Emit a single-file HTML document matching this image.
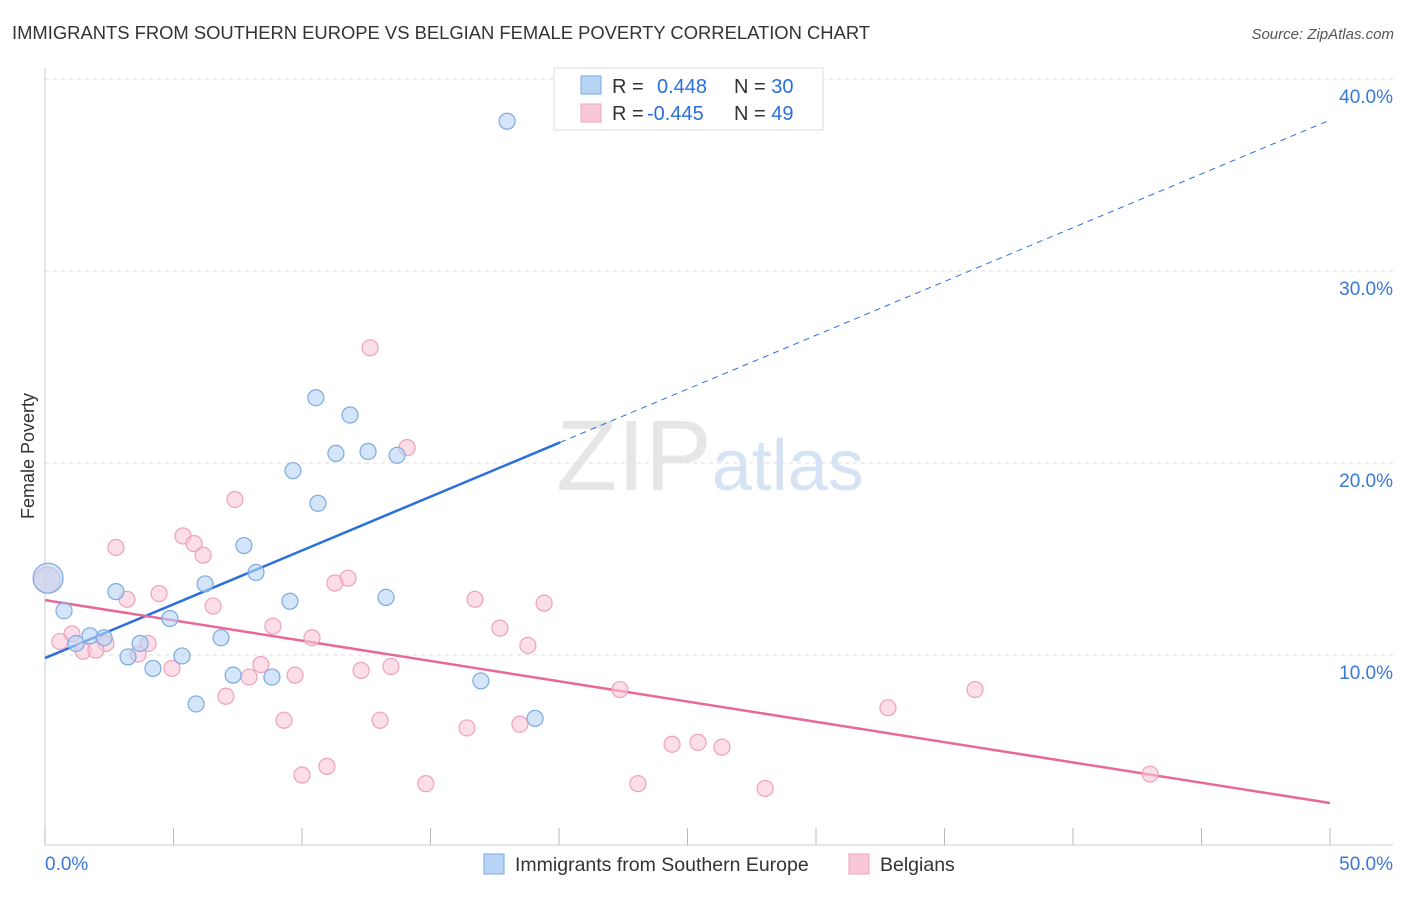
<!DOCTYPE html>
<html><head><meta charset="utf-8"><style>
body{margin:0;background:#fff;font-family:"Liberation Sans",sans-serif}
svg text{font-family:"Liberation Sans",sans-serif}
</style></head><body>
<svg width="1406" height="892" viewBox="0 0 1406 892">
<text x="12" y="39" font-size="18.4" fill="#333">IMMIGRANTS FROM SOUTHERN EUROPE VS BELGIAN FEMALE POVERTY CORRELATION CHART</text>
<text x="1394" y="39" font-size="15" fill="#555" text-anchor="end" font-style="italic">Source: ZipAtlas.com</text>
<g id="grid"></g>
<text x="710" y="490" font-size="100" fill="#e6e6e6" text-anchor="middle" font-family="Liberation Serif">ZIP<tspan fill="#d6e3f5" font-family="Liberation Sans" font-size="72">atlas</tspan></text>
<text transform="translate(34,456) rotate(-90)" font-size="18" fill="#333" text-anchor="middle">Female Poverty</text>
<g id="lines"></g>
<g id="points"></g>
<g>
<rect x="554" y="68" width="269" height="62" fill="#fff" stroke="#ddd"/>
<rect x="581" y="76" width="20" height="18" fill="#b8d4f5" stroke="#7aaae0"/>
<rect x="581" y="104" width="20" height="18" fill="#f8c8d8" stroke="#f0a0bc"/>
<text x="612" y="93" font-size="20" fill="#333">R = <tspan fill="#2a6fdb" x="657">0.448</tspan><tspan x="734" fill="#333">N = </tspan><tspan fill="#2a6fdb">30</tspan></text>
<text x="612" y="120" font-size="20" fill="#333">R = <tspan fill="#2a6fdb" x="647">-0.445</tspan><tspan x="734" fill="#333">N = </tspan><tspan fill="#2a6fdb">49</tspan></text>
</g>
<g>
<rect x="484" y="854" width="20" height="20" fill="#b8d4f5" stroke="#7aaae0"/>
<text x="515" y="871" font-size="19.5" fill="#333">Immigrants from Southern Europe</text>
<rect x="849" y="854" width="20" height="20" fill="#f8c8d8" stroke="#f0a0bc"/>
<text x="880" y="871" font-size="19.5" fill="#333">Belgians</text>
</g>
</svg>
<script>
const xTicks=[0,5,10,15,20,25,30,35,40,45,50];
const yTicks=[10,20,30,40];
const blueX=[17.98,10.54,11.87,11.32,12.57,13.70,9.65,10.62,7.74,8.21,6.23,2.76,13.27,9.53,0.74,4.86,6.85,1.75,2.30,1.21,3.70,3.23,5.33,4.20,7.32,8.83,16.96,5.88,19.07,0.12];
const blueY=[37.8,23.4,22.5,20.5,20.6,20.4,19.6,17.9,15.7,14.3,13.7,13.3,13.0,12.8,12.3,11.9,10.9,11.0,10.9,10.6,10.6,9.9,9.95,9.3,8.95,8.85,8.65,7.45,6.7,14.0];
const pinkX=[12.65,14.09,7.39,5.37,5.80,2.76,6.15,11.79,11.28,4.44,3.19,16.73,19.42,6.54,8.87,17.70,10.39,1.05,0.58,4.01,2.37,18.79,1.48,1.98,3.62,8.40,13.46,12.30,4.94,7.94,9.73,22.37,36.19,7.04,32.80,9.30,13.04,18.48,16.42,24.40,25.41,26.34,10.97,10.0,43.0,14.82,23.07,28.02,0.08];
const pinkY=[26.0,20.8,18.1,16.2,15.8,15.6,15.2,14.0,13.75,13.2,12.9,12.9,12.7,12.55,11.5,11.4,10.9,11.1,10.7,10.6,10.6,10.5,10.2,10.25,10.05,9.5,9.4,9.2,9.3,8.85,8.95,8.2,8.2,7.85,7.25,6.6,6.6,6.4,6.2,5.35,5.45,5.2,4.2,3.75,3.8,3.3,3.3,3.05,13.9];
const blueLine=[9.84,37.86], blueSolidEnd=20.04;
const pinkLine=[12.86,2.29];
const NS='http://www.w3.org/2000/svg';
const X=v=>45+v*25.7, Y=v=>847-v*19.2;
function mk(t,a,p){const e=document.createElementNS(NS,t);for(const k in a)e.setAttribute(k,a[k]);document.getElementById(p).appendChild(e);return e;}
yTicks.forEach(t=>{
 const l=mk('line',{x1:45,x2:1393,y1:Y(t),y2:Y(t),stroke:'#ddd','stroke-dasharray':'4,4'},'grid');
 
 
 const tx=mk('text',{x:1393,y:Y(t)+24,'font-size':19,fill:'#3a78d8','text-anchor':'end'},'grid');tx.textContent=t.toFixed(1)+'%';
 
 
});
const ax=mk('line',{x1:45,x2:1393,y1:845,y2:845,stroke:'#ccc'},'grid');


const ay=mk('line',{x1:45,x2:45,y1:68,y2:845,stroke:'#ccc'},'grid');


xTicks.forEach(t=>{
 const l=mk('line',{x1:X(t),x2:X(t),y1:828,y2:845,stroke:'#bbb'},'grid');
 
 
});
[[0,'start'],[50,'end']].forEach(([t,a])=>{
 const tx=mk('text',{x:t===0?X(t):1393,y:870,'font-size':19,fill:'#3a78d8','text-anchor':a},'grid');tx.textContent=t.toFixed(1)+'%';
 
 
});
const by=x=>blueLine[0]+(blueLine[1]-blueLine[0])*x/50;
let e=mk('line',{x1:X(0),y1:Y(by(0)),x2:X(blueSolidEnd),y2:Y(by(blueSolidEnd)),stroke:'#2a6fdb','stroke-width':2.5},'lines');


e=mk('line',{x1:X(blueSolidEnd),y1:Y(by(blueSolidEnd)),x2:X(50),y2:Y(by(50)),stroke:'#2a6fdb','stroke-width':1,'stroke-dasharray':'6,5'},'lines');


e=mk('line',{x1:X(0),y1:Y(pinkLine[0]),x2:X(50),y2:Y(pinkLine[1]),stroke:'#e8689a','stroke-width':2.5},'lines');


pinkX.forEach((v,i)=>{const big=i===pinkX.length-1;
 const c=mk('circle',{cx:X(v),cy:Y(pinkY[i]),r:big?13:8,fill:'#f8c8d8','fill-opacity':0.6,stroke:'#f0a0bc','stroke-width':1.2},'points');
 
 
});
blueX.forEach((v,i)=>{const big=i===blueX.length-1;
 const c=mk('circle',{cx:X(v),cy:Y(blueY[i]),r:big?15:8,fill:'#b8d4f5','fill-opacity':0.6,stroke:'#7aaae0','stroke-width':1.2},'points');
 
 
});
</script>
</body></html>
